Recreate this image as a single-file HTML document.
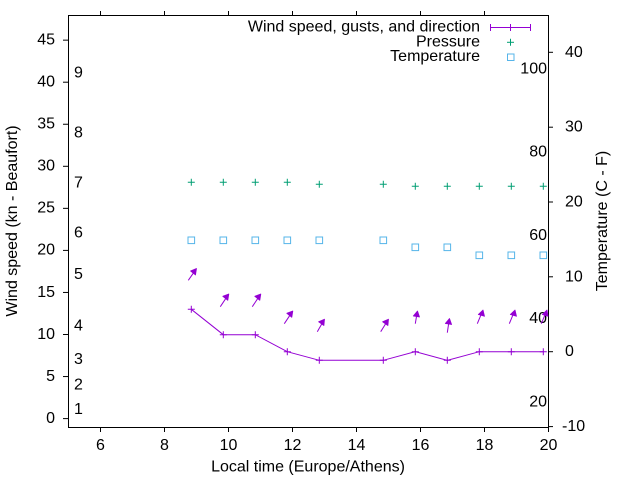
<!DOCTYPE html>
<html><head><meta charset="utf-8"><style>
html,body{margin:0;padding:0;background:#fff;}
svg{display:block;}
text{font-family:"Liberation Sans",Arial,sans-serif;font-size:16px;fill:#000;}
</style></head><body>
<svg width="640" height="480" viewBox="0 0 640 480" xmlns="http://www.w3.org/2000/svg">
<rect width="640" height="480" fill="#fff"/>
<!-- border -->
<rect x="68.5" y="15.5" width="480" height="412" fill="none" stroke="#000" stroke-width="1"/>
<!-- left ticks -->
<g stroke="#000" stroke-width="1">
<line x1="63" y1="418.6" x2="68" y2="418.6"/>
<line x1="63" y1="376.55" x2="68" y2="376.55"/>
<line x1="63" y1="334.5" x2="68" y2="334.5"/>
<line x1="63" y1="292.45" x2="68" y2="292.45"/>
<line x1="63" y1="250.4" x2="68" y2="250.4"/>
<line x1="63" y1="208.35" x2="68" y2="208.35"/>
<line x1="63" y1="166.3" x2="68" y2="166.3"/>
<line x1="63" y1="124.25" x2="68" y2="124.25"/>
<line x1="63" y1="82.2" x2="68" y2="82.2"/>
<line x1="63" y1="40.15" x2="68" y2="40.15"/>
<!-- bottom / top ticks -->
<line x1="100.5" y1="427" x2="100.5" y2="432"/><line x1="100.5" y1="11" x2="100.5" y2="15"/>
<line x1="164.5" y1="427" x2="164.5" y2="432"/><line x1="164.5" y1="11" x2="164.5" y2="15"/>
<line x1="228.5" y1="427" x2="228.5" y2="432"/><line x1="228.5" y1="11" x2="228.5" y2="15"/>
<line x1="292.5" y1="427" x2="292.5" y2="432"/><line x1="292.5" y1="11" x2="292.5" y2="15"/>
<line x1="356.5" y1="427" x2="356.5" y2="432"/><line x1="356.5" y1="11" x2="356.5" y2="15"/>
<line x1="420.5" y1="427" x2="420.5" y2="432"/><line x1="420.5" y1="11" x2="420.5" y2="15"/>
<line x1="484.5" y1="427" x2="484.5" y2="432"/><line x1="484.5" y1="11" x2="484.5" y2="15"/>
<line x1="548.5" y1="427" x2="548.5" y2="432"/>
<!-- right ticks -->
<line x1="548" y1="52.3" x2="553" y2="52.3"/>
<line x1="548" y1="127.2" x2="553" y2="127.2"/>
<line x1="548" y1="202" x2="553" y2="202"/>
<line x1="548" y1="276.8" x2="553" y2="276.8"/>
<line x1="548" y1="351.7" x2="553" y2="351.7"/>
<line x1="548" y1="426.6" x2="553" y2="426.6"/>
</g>
<!-- left tick labels -->
<g text-anchor="end">
<text x="55" y="423">0</text>
<text x="55" y="381">5</text>
<text x="55" y="339">10</text>
<text x="55" y="297">15</text>
<text x="55" y="254.7">20</text>
<text x="55" y="212.7">25</text>
<text x="55" y="170.6">30</text>
<text x="55" y="128.5">35</text>
<text x="55" y="86.5">40</text>
<text x="55" y="44.4">45</text>
</g>
<!-- bottom labels -->
<g text-anchor="middle">
<text x="100.5" y="450">6</text>
<text x="164.5" y="450">8</text>
<text x="228.5" y="450">10</text>
<text x="292.5" y="450">12</text>
<text x="356.5" y="450">14</text>
<text x="420.5" y="450">16</text>
<text x="484.5" y="450">18</text>
<text x="548.5" y="450">20</text>
<text x="308" y="471.5">Local time (Europe/Athens)</text>
</g>
<!-- right labels -->
<text x="565" y="56.8">40</text>
<text x="565" y="131.7">30</text>
<text x="565" y="206.5">20</text>
<text x="565" y="281.3">10</text>
<text x="565" y="356.2">0</text>
<text x="562" y="431.1">-10</text>
<!-- F labels -->
<g text-anchor="end">
<text x="547" y="73.5">100</text>
<text x="547" y="156.7">80</text>
<text x="547" y="240">60</text>
<text x="547" y="323.2">40</text>
<text x="547" y="406.7">20</text>
</g>
<!-- Beaufort labels -->
<text x="74" y="77.6">9</text>
<text x="74" y="137.4">8</text>
<text x="74" y="187.4">7</text>
<text x="74" y="237.4">6</text>
<text x="74" y="279">5</text>
<text x="74" y="330.7">4</text>
<text x="74" y="364">3</text>
<text x="74" y="389.7">2</text>
<text x="74" y="414">1</text>
<!-- axis titles -->
<text transform="translate(17,221) rotate(-90)" text-anchor="middle">Wind speed (kn - Beaufort)</text>
<text transform="translate(607,221) rotate(-90)" text-anchor="middle">Temperature (C - F)</text>
<!-- legend -->
<g text-anchor="end">
<text x="480" y="31.5">Wind speed, gusts, and direction</text>
<text x="480" y="46.5">Pressure</text>
<text x="480" y="61">Temperature</text>
</g>
<g stroke="#9400d3" stroke-width="1" fill="none">
<line x1="490.5" y1="27.5" x2="530.5" y2="27.5"/>
<line x1="490.5" y1="24" x2="490.5" y2="31"/>
<line x1="530.5" y1="24" x2="530.5" y2="31"/>
<line x1="510.5" y1="24" x2="510.5" y2="31"/>
</g>
<g stroke="#009e73" stroke-width="1">
<line x1="507" y1="42.3" x2="514" y2="42.3"/><line x1="510.5" y1="38.8" x2="510.5" y2="45.8"/>
</g>
<rect x="507.5" y="54" width="6.5" height="6.5" fill="none" stroke="#56b4e9" stroke-width="1"/>
<!-- pressure points -->
<g stroke="#009e73" stroke-width="1">
<path d="M187.8 182.3h7M191.3 178.8v7 M219.8 182.3h7M223.3 178.8v7 M251.8 182.3h7M255.3 178.8v7 M283.8 182.3h7M287.3 178.8v7 M315.8 184.3h7M319.3 180.8v7 M379.8 184.3h7M383.3 180.8v7 M411.8 186.3h7M415.3 182.8v7 M443.8 186.3h7M447.3 182.8v7 M475.8 186.3h7M479.3 182.8v7 M507.8 186.3h7M511.3 182.8v7 M539.8 186.3h7M543.3 182.8v7"/>
</g>
<!-- temperature points -->
<g fill="none" stroke="#56b4e9" stroke-width="1">
<rect x="188" y="237" width="6.6" height="6.6"/>
<rect x="220" y="237" width="6.6" height="6.6"/>
<rect x="252" y="237" width="6.6" height="6.6"/>
<rect x="284" y="237" width="6.6" height="6.6"/>
<rect x="316" y="237" width="6.6" height="6.6"/>
<rect x="380" y="237" width="6.6" height="6.6"/>
<rect x="412" y="244" width="6.6" height="6.6"/>
<rect x="444" y="244" width="6.6" height="6.6"/>
<rect x="476" y="252" width="6.6" height="6.6"/>
<rect x="508" y="252" width="6.6" height="6.6"/>
<rect x="540" y="252" width="6.6" height="6.6"/>
</g>
<!-- wind line -->
<g stroke="#9400d3" stroke-width="1" fill="none">
<polyline points="191.3,309.3 223.3,334.7 255.3,334.7 287.3,351.7 319.3,360.3 383.3,360.3 415.3,351.7 447.3,360.3 479.3,351.7 511.3,351.7 543.3,351.7"/>
<path d="M187.8 309.3h7M191.3 305.8v7 M219.8 334.7h7M223.3 331.2v7 M251.8 334.7h7M255.3 331.2v7 M283.8 351.7h7M287.3 348.2v7 M315.8 360.3h7M319.3 356.8v7 M379.8 360.3h7M383.3 356.8v7 M411.8 351.7h7M415.3 348.2v7 M443.8 360.3h7M447.3 356.8v7 M475.8 351.7h7M479.3 348.2v7 M507.8 351.7h7M511.3 348.2v7 M539.8 351.7h7M543.3 348.2v7"/>
<!-- arrows shafts -->
<line x1="188.3" y1="280.3" x2="196" y2="269.3"/>
<line x1="220.3" y1="306.7" x2="228.3" y2="294.7"/>
<line x1="252.3" y1="306.7" x2="260.3" y2="294.7"/>
<line x1="284.3" y1="323.7" x2="292.3" y2="311.7"/>
<line x1="317.3" y1="331.7" x2="324" y2="320"/>
<line x1="380.7" y1="331.7" x2="388" y2="320"/>
<line x1="415.3" y1="323.7" x2="417.3" y2="311.7"/>
<line x1="447.3" y1="332.7" x2="449.3" y2="319.3"/>
<line x1="477.3" y1="323.7" x2="482.7" y2="310.7"/>
<line x1="509.3" y1="323.7" x2="514.7" y2="310.7"/>
<line x1="541.3" y1="323.7" x2="546.7" y2="310.7"/>
</g>
<!-- arrow heads -->
<g fill="#9400d3" stroke="#9400d3" stroke-width="0.8" stroke-linejoin="round">
<polygon points="196.5,268.5 190.5,271 195.5,275"/>
<polygon points="228.8,294 222.8,296.3 227.8,300.3"/>
<polygon points="260.8,294 254.8,296.3 259.8,300.3"/>
<polygon points="292.8,311 286.8,313.3 291.8,317.3"/>
<polygon points="324.5,319.2 318.6,321.8 323.9,325.5"/>
<polygon points="388.5,319.2 382.6,321.8 387.9,325.5"/>
<polygon points="417.5,311 413.3,316 419.5,317"/>
<polygon points="449.5,318.5 445.3,323.5 451.6,324.5"/>
<polygon points="483,310 478.3,314.5 484.5,316.3"/>
<polygon points="515,310 510.3,314.5 516.5,316.3"/>
<polygon points="547,310 542.3,314.5 548,316.3"/>
</g>
</svg>
</body></html>
